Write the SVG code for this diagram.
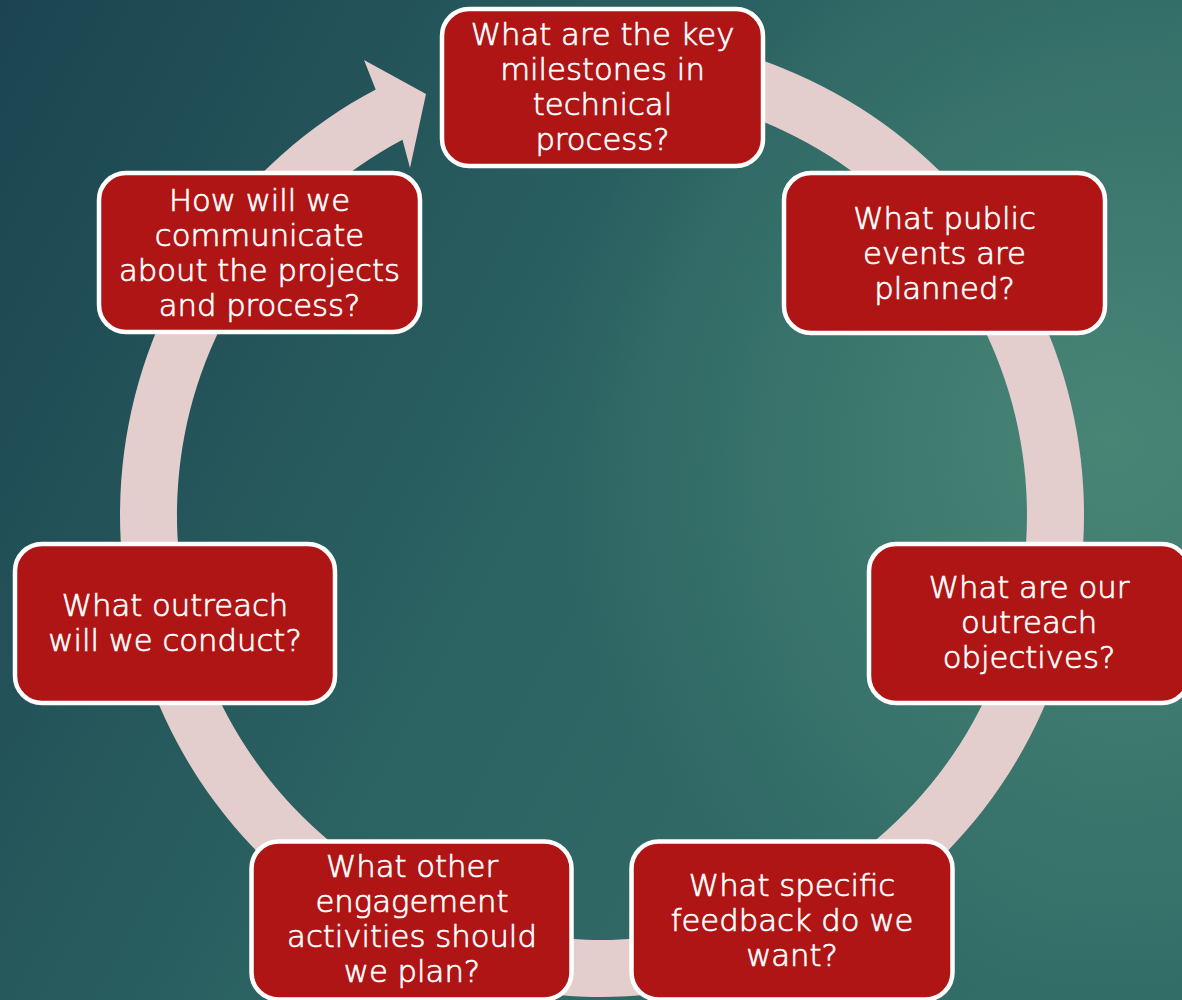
<svg xmlns="http://www.w3.org/2000/svg" width="1182" height="1000" viewBox="0 0 1182 1000">
  <defs>
    <linearGradient id="bg" gradientUnits="userSpaceOnUse" x1="0" y1="0" x2="1182" y2="640">
      <stop offset="0" stop-color="#1B4450"/>
      <stop offset="0.55" stop-color="#2C6463"/>
      <stop offset="1" stop-color="#336D68"/>
    </linearGradient>
    <radialGradient id="glow" gradientUnits="userSpaceOnUse" cx="1110" cy="440" r="560">
      <stop offset="0" stop-color="#4C8A78" stop-opacity="0.85"/>
      <stop offset="1" stop-color="#4C8A78" stop-opacity="0"/>
    </radialGradient>
    <style>
      .node rect { fill: #B01515; stroke: #FFFFFF; stroke-width: 4.5; }
      .node text { fill: #FFFFFF; stroke: #FFFFFF; stroke-width: 0.7px; font-family: "DejaVu Sans", "Liberation Sans", sans-serif; font-weight: 200; font-size: 30.7px; text-anchor: middle; }
      .ring { fill: #E4CDCD; stroke: none; }
    </style>
  </defs>
  <rect x="0" y="0" width="1182" height="1000" fill="url(#bg)"/>
  <rect x="0" y="0" width="1182" height="1000" fill="url(#glow)"/>
  <g id="connectors">
    <path class="ring" d="M 644 34.8 A 482 482 0 1 1 375.7 89.4 L 364 60 L 426 94 L 410 168 L 402.5 139.7 A 425 425 0 1 0 639 91.6 Z"/>
  </g>
  <g id="node-milestones" class="node">
    <rect x="442" y="9" width="321" height="157" rx="27" ry="27"/>
    <text x="602.5" y="45">What are the key</text>
    <text x="602.5" y="80">milestones in</text>
    <text x="602.5" y="115">technical</text>
    <text x="602.5" y="150">process?</text>
  </g>
  <g id="node-events" class="node">
    <rect x="784" y="173" width="321" height="160" rx="27" ry="27"/>
    <text x="944.5" y="229">What public</text>
    <text x="944.5" y="264">events are</text>
    <text x="944.5" y="299">planned?</text>
  </g>
  <g id="node-objectives" class="node">
    <rect x="869" y="544" width="320" height="159" rx="27" ry="27"/>
    <text x="1029" y="598">What are our</text>
    <text x="1029" y="633">outreach</text>
    <text x="1029" y="668">objectives?</text>
  </g>
  <g id="node-feedback" class="node">
    <rect x="631.5" y="841.5" width="321" height="158" rx="27" ry="27"/>
    <text x="792" y="896">What specific</text>
    <text x="792" y="931">feedback do we</text>
    <text x="792" y="966">want?</text>
  </g>
  <g id="node-engagement" class="node">
    <rect x="251.5" y="841.5" width="320" height="158" rx="27" ry="27"/>
    <text x="412" y="877">What other</text>
    <text x="412" y="912">engagement</text>
    <text x="412" y="947">activities should</text>
    <text x="412" y="982">we plan?</text>
  </g>
  <g id="node-outreach" class="node">
    <rect x="15" y="544" width="320" height="159" rx="27" ry="27"/>
    <text x="175" y="616">What outreach</text>
    <text x="175" y="651">will we conduct?</text>
  </g>
  <g id="node-communicate" class="node">
    <rect x="99" y="173" width="321" height="159" rx="27" ry="27"/>
    <text x="259.5" y="211">How will we</text>
    <text x="259.5" y="246">communicate</text>
    <text x="259.5" y="281">about the projects</text>
    <text x="259.5" y="316">and process?</text>
  </g>
</svg>
